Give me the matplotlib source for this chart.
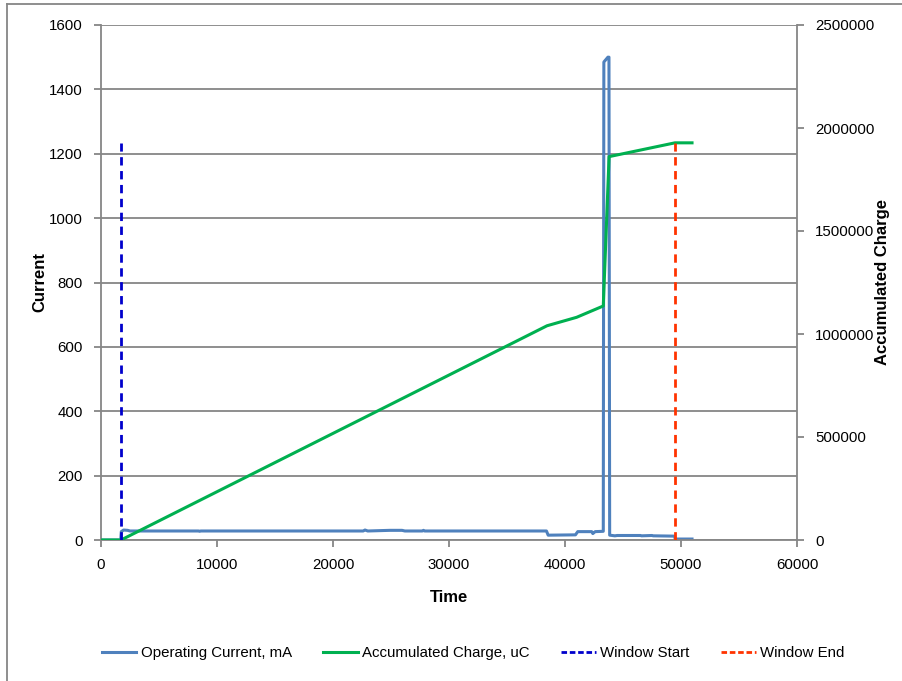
import matplotlib.pyplot as plt
from matplotlib.lines import Line2D

plt.rcParams['font.family'] = ['Liberation Sans', 'DejaVu Sans']

# Operating current (mA) vs time
time_current = [0, 1700, 1750, 1950, 2300, 2500, 8400, 8500, 8600, 22600, 22760, 23000,
                24900, 25950, 26200, 27700, 27800, 27900, 38400, 38550, 40900, 41100,
                42300, 42400, 42600, 43300, 43350, 43700, 43790, 43850, 44300, 44500,
                46500, 46600, 47500, 47600, 49450, 49500, 50950]
current_ma = [0, 0, 26, 31, 30, 28, 28, 27, 28, 28, 31, 28,
              30, 30, 28, 28, 30, 28, 28, 15, 16, 26,
              26, 20, 26, 27, 1485, 1500, 1500, 15, 13, 14,
              14, 13, 14, 13, 12, 3, 3]

# Accumulated charge (uC) vs time
time_charge = [0, 1724, 38450, 41000, 43300, 43800, 49480, 50950]
charge_uc = [0, 0, 1040000, 1081000, 1136000, 1861000, 1928000, 1928000]

# measurement window
window_start = 1724
window_end = 49480
window_top = 1928000

blue = '#4F81BD'
green = '#00B050'
grey = '#868686'

fig = plt.figure(figsize=(9.02, 6.81), dpi=100)
ax = fig.add_axes([101 / 902, 1 - 540 / 681, 696 / 902, 515 / 681])
ax2 = ax.twinx()

ax.plot(time_current, current_ma, color=blue, lw=2.2)
ax2.plot(time_charge, charge_uc, color=green, lw=2.2)
ax2.plot([window_start, window_start], [0, window_top], color='#0000CC', lw=2, ls=(0, (3, 2)))
ax2.plot([window_end, window_end], [0, window_top], color='#FF3300', lw=2, ls=(0, (3, 2)))

ax.set_xlim(0, 60000)
ax.set_ylim(0, 1600)
ax2.set_ylim(0, 2500000)
ax.set_xticks(range(0, 60001, 10000))
ax.set_yticks(range(0, 1601, 200))
ax2.set_yticks(range(0, 2500001, 500000))
ax2.set_yticklabels([str(v) for v in range(0, 2500001, 500000)])

ax.yaxis.grid(True, color=grey, lw=1.3)
ax.set_axisbelow(True)

for s in ['top', 'right']:
    ax.spines[s].set_visible(False)
for s in ['top', 'left', 'bottom']:
    ax2.spines[s].set_visible(False)
for s in ['left', 'bottom']:
    ax.spines[s].set_color(grey)
    ax.spines[s].set_linewidth(1.3)
ax2.spines['right'].set_color(grey)
ax2.spines['right'].set_linewidth(1.3)

ax.tick_params(direction='out', length=5, width=1.3, color=grey, labelsize=10.8, pad=8)
ax2.tick_params(direction='out', length=5, width=1.3, color=grey, labelsize=10.8, pad=8)

fig.text(449 / 902, 1 - 598 / 681, 'Time', ha='center', va='center', fontsize=12, fontweight='bold')
fig.text(40 / 902, 1 - 282 / 681, 'Current', ha='center', va='center', rotation=90,
         fontsize=12, fontweight='bold')
fig.text(883 / 902, 1 - 282 / 681, 'Accumulated Charge', ha='center', va='center', rotation=90,
         fontsize=12, fontweight='bold')

handles = [
    Line2D([], [], color=blue, lw=2.2),
    Line2D([], [], color=green, lw=2.2),
    Line2D([], [], color='#0000CC', lw=2, ls=(0, (2, 1))),
    Line2D([], [], color='#FF3300', lw=2, ls=(0, (2, 1))),
]
labels = ['Operating Current, mA', 'Accumulated Charge, uC', 'Window Start', 'Window End']
fig.legend(handles, labels, loc='center', bbox_to_anchor=(473 / 902, 1 - 653 / 681), ncol=4,
           frameon=False, fontsize=10.8, handlelength=2.3, handletextpad=0.3, columnspacing=2.1)

# outer chart frame (top and left edges visible)
fig.add_artist(Line2D([7 / 902, 7 / 902], [0, 1 - 4 / 681], transform=fig.transFigure, color=grey, lw=1.3))
fig.add_artist(Line2D([7 / 902, 1], [1 - 4 / 681, 1 - 4 / 681], transform=fig.transFigure, color=grey, lw=1.3))

plt.savefig('out.png', dpi=100)
